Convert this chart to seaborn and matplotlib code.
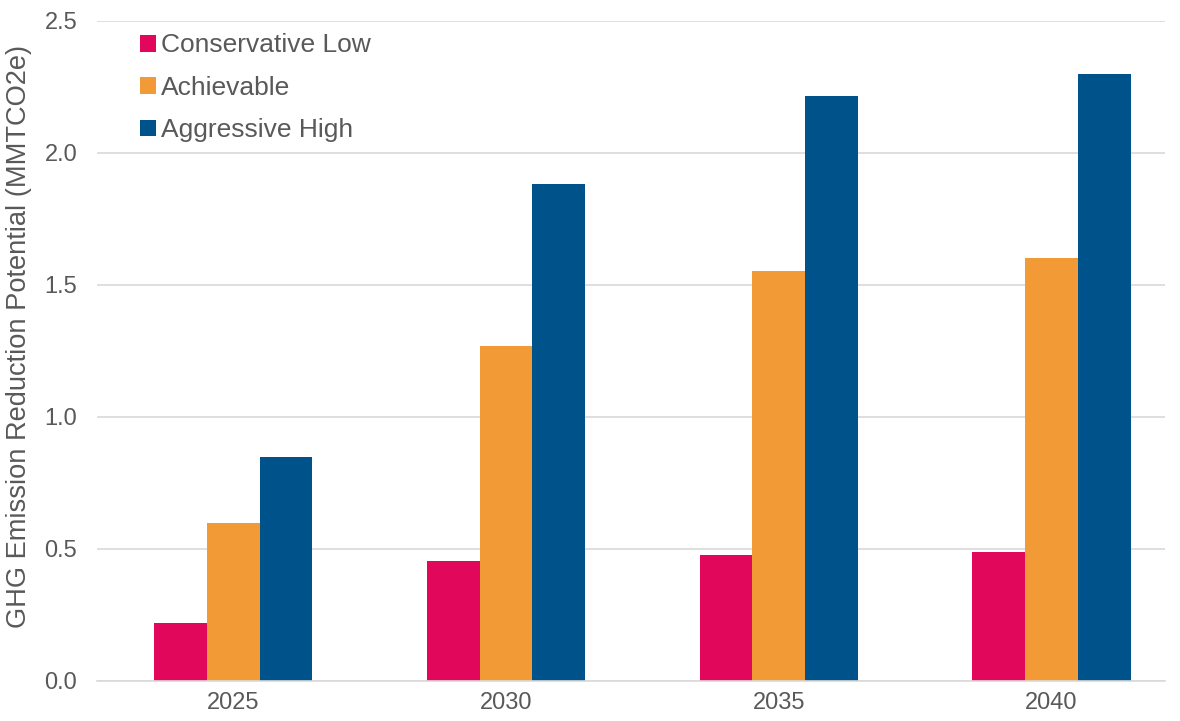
import pandas as pd
import seaborn as sns
import matplotlib.pyplot as plt

years = ["2025", "2030", "2035", "2040"]
scenarios = ["Conservative Low", "Achievable", "Aggressive High"]
conservative_low = [0.22, 0.455, 0.477, 0.49]
achievable = [0.598, 1.27, 1.553, 1.602]
aggressive_high = [0.848, 1.883, 2.216, 2.30]
colors = ["#E1085C", "#F29A35", "#00528A"]

df = pd.DataFrame({
    "Year": years * 3,
    "Scenario": [s for s in scenarios for _ in years],
    "Value": conservative_low + achievable + aggressive_high,
})

sns.set_style("white")
plt.rcParams["font.family"] = ["Liberation Sans", "DejaVu Sans"]
text_color = "#595959"

fig = plt.figure(figsize=(11.8, 7.21), dpi=100)
ax = fig.add_axes([0.082, 0.0555, 0.905, 0.9155])

sns.barplot(data=df, x="Year", y="Value", hue="Scenario", order=years,
            hue_order=scenarios, palette=colors, width=0.58, gap=0,
            saturation=1, linewidth=0, edgecolor="none", ax=ax)

ax.set_xlim(-0.5, 3.415)
ax.set_ylim(0, 2.5)
ax.set_yticks([0, 0.5, 1.0, 1.5, 2.0, 2.5])
ax.set_yticklabels([f"{v:.1f}" for v in [0, 0.5, 1.0, 1.5, 2.0, 2.5]])
ax.yaxis.grid(True, color="#D9D9D9", linewidth=1.2)
ax.set_axisbelow(True)
for side in ["top", "right", "left"]:
    ax.spines[side].set_visible(False)
ax.spines["bottom"].set_color("#D9D9D9")
ax.spines["bottom"].set_linewidth(1.2)
ax.tick_params(axis="both", length=0, labelsize=17, colors=text_color)
ax.tick_params(axis="y", pad=14)
ax.tick_params(axis="x", pad=8)
ax.set_xlabel("")
ax.set_ylabel("GHG Emission Reduction Potential (MMTCO2e)", fontsize=19.6,
              color=text_color)
ax.yaxis.set_label_coords(-0.061, 0.522)

leg = ax.legend(loc="upper left", bbox_to_anchor=(0.018, 1.017), frameon=False,
                fontsize=19, handlelength=0.6, handleheight=0.6,
                handletextpad=0.2, labelspacing=0.7)
for t in leg.get_texts():
    t.set_color(text_color)

fig.savefig("out.png", dpi=100)
